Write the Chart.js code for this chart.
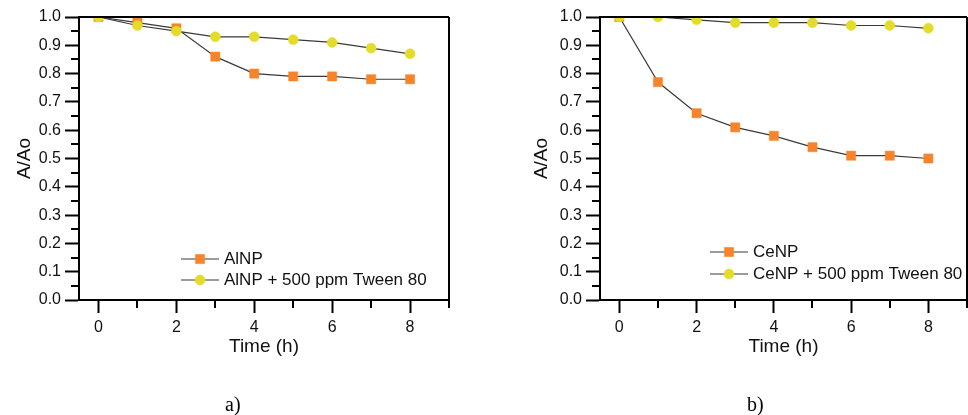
<!DOCTYPE html>
<html>
<head>
<meta charset="utf-8">
<script src="https://cdn.jsdelivr.net/npm/chart.js@4.4.1/dist/chart.umd.min.js"></script>
<style>
  html, body { margin: 0; padding: 0; background: #fff; overflow: hidden; width: 968px; height: 415px; }
  .panel { position: absolute; top: 0; height: 415px; }
  #wrapA { left: 0; width: 484px; }
  #wrapB { left: 484px; width: 490px; }
  .cap { position: absolute; top: 392px; font-family: "Liberation Serif", "Times New Roman", serif;
         font-size: 20px; line-height: 24px; color: #000; }
</style>
</head>
<body>
<div class="panel" id="wrapA"><canvas id="chartA" width="484" height="415"></canvas></div>
<div class="panel" id="wrapB"><canvas id="chartB" width="490" height="415"></canvas></div>
<div class="cap" style="left:225px">a)</div>
<div class="cap" style="left:747px">b)</div>

<script>
// Sampling times (hours)
const timeHours = [0, 1, 2, 3, 4, 5, 6, 7, 8];

// Relative absorbance A/Ao, panel a
const alnp      = [1.00, 0.98, 0.96, 0.86, 0.80, 0.79, 0.79, 0.78, 0.78];
const alnpTween = [1.00, 0.97, 0.95, 0.93, 0.93, 0.92, 0.91, 0.89, 0.87];

// Relative absorbance A/Ao, panel b
const cenp      = [1.00, 0.77, 0.66, 0.61, 0.58, 0.54, 0.51, 0.51, 0.50];
const cenpTween = [1.00, 1.00, 0.99, 0.98, 0.98, 0.98, 0.97, 0.97, 0.96];

// Axis ticks
const xTickValues = [0, 2, 4, 6, 8];
const xTickLabels = ['0', '2', '4', '6', '8'];
const xMinorTicks = [1, 3, 5, 7];
const yTickValues = [0, 0.1, 0.2, 0.3, 0.4, 0.5, 0.6, 0.7, 0.8, 0.9, 1.0];
const yTickLabels = ['0.0', '0.1', '0.2', '0.3', '0.4', '0.5', '0.6', '0.7', '0.8', '0.9', '1.0'];
const yMinorTicks = [0.05, 0.15, 0.25, 0.35, 0.45, 0.55, 0.65, 0.75, 0.85, 0.95];

const ORANGE = '#f7842a';
const YELLOW = '#e4dc2a';
const LINE = '#3a3a3a';
const SANS = '"Liberation Sans", Arial, Helvetica, sans-serif';

function toPoints(values) {
  return values.map((v, i) => ({ x: timeHours[i], y: v }));
}

// Keep markers inside the plot frame
const clipPlugin = {
  id: 'plotClip',
  beforeDatasetsDraw(chart) {
    const a = chart.chartArea;
    chart.ctx.save();
    chart.ctx.beginPath();
    chart.ctx.rect(a.left, a.top, a.right - a.left, a.bottom - a.top);
    chart.ctx.clip();
  },
  afterDatasetsDraw(chart) {
    chart.ctx.restore();
  }
};

// Frame, minor ticks and the in-plot legend
const decorPlugin = {
  id: 'decor',
  afterDraw(chart, args, opts) {
    const ctx = chart.ctx;
    const area = chart.chartArea;
    const xs = chart.scales.x, ys = chart.scales.y;
    ctx.save();
    ctx.strokeStyle = '#000';
    ctx.lineWidth = 2;
    ctx.beginPath();
    // top and right frame
    ctx.moveTo(area.left, area.top);
    ctx.lineTo(area.right, area.top);
    ctx.moveTo(area.right, area.top);
    ctx.lineTo(area.right, area.bottom + 8);
    // minor ticks
    yMinorTicks.forEach(v => {
      const y = Math.round(ys.getPixelForValue(v));
      ctx.moveTo(area.left - 8, y);
      ctx.lineTo(area.left, y);
    });
    xMinorTicks.forEach(v => {
      const x = Math.round(xs.getPixelForValue(v));
      ctx.moveTo(x, area.bottom);
      ctx.lineTo(x, area.bottom + 8);
    });
    ctx.stroke();

    // legend
    const lg = opts.legend;
    chart.data.datasets.forEach((ds, i) => {
      const y = lg.rows[i];
      ctx.strokeStyle = LINE;
      ctx.lineWidth = 1.2;
      ctx.beginPath();
      ctx.moveTo(lg.x1, y);
      ctx.lineTo(lg.x2, y);
      ctx.stroke();
      ctx.fillStyle = ds.pointBackgroundColor;
      ctx.strokeStyle = ds.pointBorderColor;
      ctx.lineWidth = ds.pointBorderWidth;
      Chart.helpers.drawPoint(ctx, {
        pointStyle: ds.pointStyle, radius: ds.pointRadius, rotation: 0,
        borderWidth: ds.pointBorderWidth
      }, (lg.x1 + lg.x2) / 2, y);
      ctx.fillStyle = '#111';
      ctx.font = '17px ' + SANS;
      ctx.textBaseline = 'middle';
      ctx.textAlign = 'left';
      ctx.fillText(ds.label, lg.textX, y);
    });
    ctx.restore();
  }
};

function makeChart(canvasId, labels, series, pad, legend) {
  const datasets = [
    {
      label: labels[0], data: toPoints(series[0]), order: 1,
      borderColor: LINE, borderWidth: 1.2,
      pointStyle: 'rect', pointRadius: 6.5, pointHoverRadius: 6.5,
      pointBackgroundColor: ORANGE, pointBorderColor: ORANGE, pointBorderWidth: 0.5,
      clip: 0
    },
    {
      label: labels[1], data: toPoints(series[1]), order: 0,
      borderColor: LINE, borderWidth: 1.2,
      pointStyle: 'circle', pointRadius: 5, pointHoverRadius: 5,
      pointBackgroundColor: YELLOW, pointBorderColor: YELLOW, pointBorderWidth: 0.5,
      clip: 0
    }
  ];
  return new Chart(document.getElementById(canvasId), {
    type: 'line',
    data: { datasets },
    plugins: [clipPlugin, decorPlugin],
    options: {
      responsive: false,
      animation: false,
      events: [],
      layout: { padding: pad },
      plugins: {
        legend: { display: false },
        tooltip: { enabled: false },
        decor: { legend }
      },
      scales: {
        x: {
          type: 'linear', min: -0.5, max: 9,
          afterBuildTicks: s => { s.ticks = xTickValues.map(v => ({ value: v })); },
          afterFit: s => { s.height = 58.4; },
          ticks: {
            callback: (v, i) => xTickLabels[i],
            color: '#111', padding: 5, maxRotation: 0,
            font: { family: SANS, size: 16 }
          },
          grid: { drawOnChartArea: false, drawTicks: true, tickLength: 13, tickWidth: 2, tickColor: '#000' },
          border: { display: true, color: '#000', width: 2 },
          title: {
            display: true, text: 'Time (h)', color: '#111',
            font: { family: SANS, size: 19, lineHeight: 1.2 }, padding: { top: 0, bottom: 0 }
          }
        },
        y: {
          type: 'linear', min: 0, max: 1,
          afterBuildTicks: s => { s.ticks = yTickValues.map(v => ({ value: v })); },
          afterFit: s => { s.width = pad.yAxisWidth; },
          ticks: {
            callback: (v, i) => yTickLabels[i],
            color: '#111', padding: 4,
            font: { family: SANS, size: 16 }
          },
          grid: { drawOnChartArea: false, drawTicks: true, tickLength: 14, tickWidth: 2, tickColor: '#000' },
          border: { display: true, color: '#000', width: 2 },
          title: {
            display: true, text: 'A/Ao', color: '#111',
            font: { family: SANS, size: 19, lineHeight: 1.2 }, padding: { top: 0, bottom: 0 }
          }
        }
      }
    }
  });
}

makeChart('chartA', ['AlNP', 'AlNP + 500 ppm Tween 80'], [alnp, alnpTween],
  { left: 13.6, right: 35, top: 17, bottom: 56.6, yAxisWidth: 65.4 },
  { x1: 181, x2: 219, textX: 224, rows: [259, 280] });

makeChart('chartB', ['CeNP', 'CeNP + 500 ppm Tween 80'], [cenp, cenpTween],
  { left: 46.6, right: 3, top: 17, bottom: 56.6, yAxisWidth: 69.4 },
  { x1: 226, x2: 264, textX: 269, rows: [252, 274] });
</script>
</body>
</html>
